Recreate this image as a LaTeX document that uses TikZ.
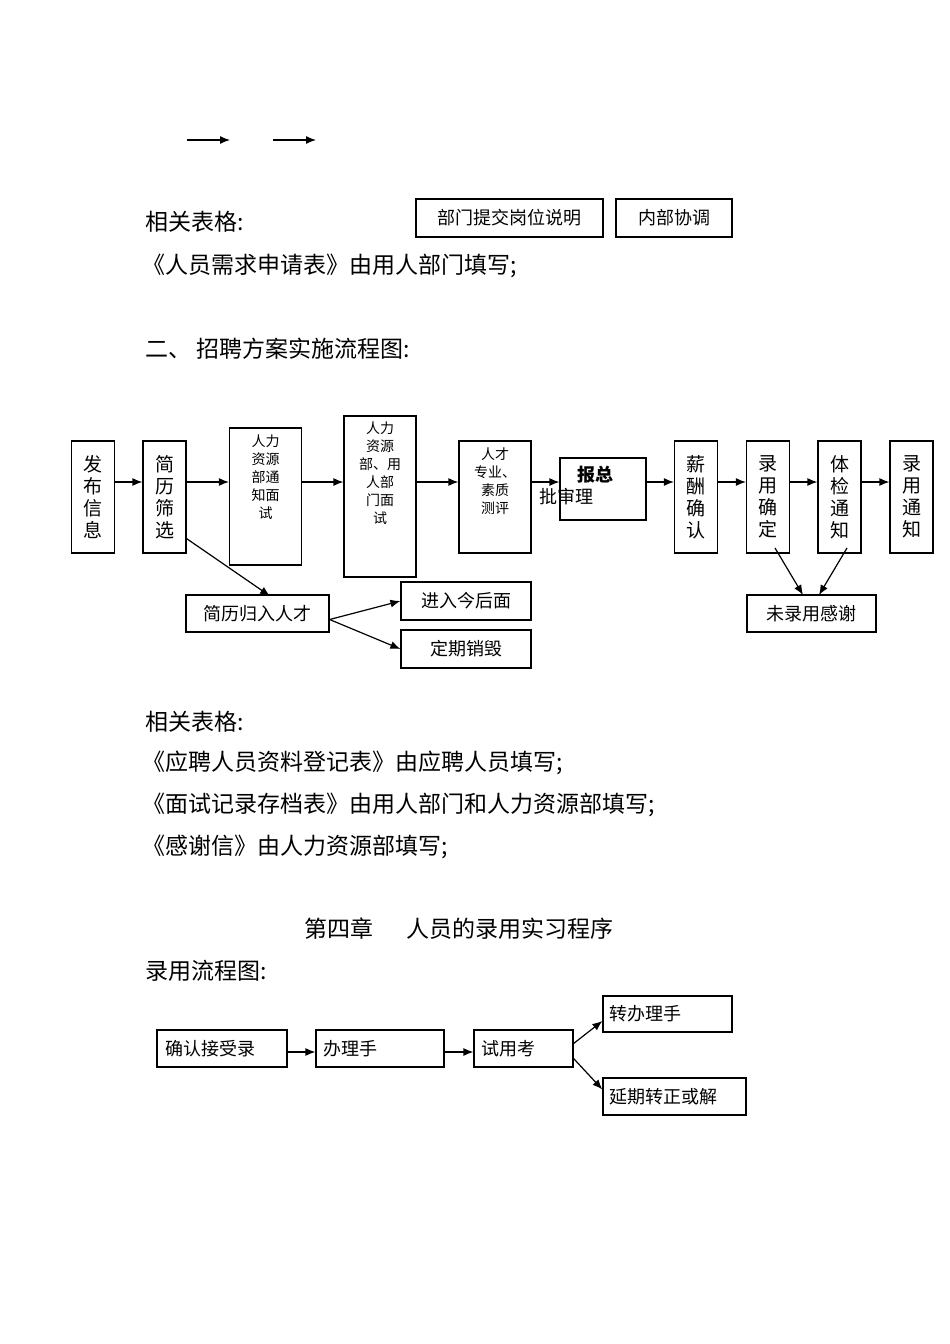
\documentclass[tikz,border=0pt]{standalone}
\usepackage{fontspec}
\setmainfont{Noto Sans CJK SC}
\newfontfamily\cjk{Noto Sans CJK SC}
\usetikzlibrary{positioning,arrows.meta}

\begin{document}
\begin{tikzpicture}[x=1pt,y=-1pt,line width=1.2pt,>={Latex[length=10pt,width=8pt]},
	bodytext/.style={anchor=west,inner sep=0pt,font=\cjk\fontsize{23}{26}\selectfont},
	flatbox/.style={draw,inner sep=0pt,font=\cjk\fontsize{18}{20}\selectfont},
	tallbox/.style={draw,inner sep=0pt,minimum width=43pt,minimum height=112pt,align=center,font=\cjk\fontsize{19}{22}\selectfont},
	thinbox/.style={draw,inner sep=0pt,minimum width=72pt},
	thintext/.style={anchor=north,inner sep=0pt,align=center,font=\cjk\fontsize{14}{18}\selectfont}]
	\useasboundingbox[fill=white] (0,0) rectangle (950,1344);

	\coordinate (a1) at (187,140);
	\coordinate (a2) at (230,140);
	\coordinate (a3) at (273,140);
	\coordinate (a4) at (316,140);
	\draw[->] (a1) -- (a2);
	\draw[->] (a3) -- (a4);

	\node[bodytext] (forms1) at (145,222) {相关表格:};
	\node[flatbox,minimum width=187pt,minimum height=38pt] (submit) at (509.5,218) {部门提交岗位说明};
	\node[flatbox,minimum width=116pt,minimum height=38pt] (coord) at (674,218) {内部协调};
	\node[bodytext] (req) at (142,266) {《人员需求申请表》由用人部门填写;};
	\node[bodytext] (sec2) at (145,349) {二、\ 招聘方案实施流程图:};

	\node[tallbox] (post) at (93,497) {发\\布\\信\\息};
	\node[tallbox] (screen) at (164.5,497) {简\\历\\筛\\选};
	\node[thinbox,minimum height=137pt] (hrnote) at (265.5,496.5) {};
	\node[thintext] at (265.5,434) {人力\\资源\\部通\\知面\\试};
	\node[thinbox,minimum height=161pt] (joint) at (380,496.5) {};
	\node[thintext] at (380,421) {人力\\资源\\部、用\\人部\\门面\\试};
	\node[thinbox,minimum height=112pt] (assess) at (495,497) {};
	\node[thintext] at (495,447) {人才\\专业、\\素质\\测评};
	\node[draw,inner sep=0pt,minimum width=86pt,minimum height=62pt] (approve) at (603,489) {};
	\node[inner sep=0pt,font=\cjk\bfseries\fontsize{18}{20}\selectfont] at (595,475) {报总};
	\node[inner sep=0pt,font=\cjk\fontsize{18}{20}\selectfont] at (566,497) {批审理};
	\node[tallbox] (salary) at (696,497) {薪\\酬\\确\\认};
	\node[tallbox] (hire) at (768,497) {录\\用\\确\\定};
	\node[tallbox] (exam) at (839.5,497) {体\\检\\通\\知};
	\node[tallbox] (notify) at (911.5,497) {录\\用\\通\\知};

	\node[flatbox,minimum width=143pt,minimum height=37pt] (pool) at (257.5,613.5) {简历归入人才};
	\node[flatbox,minimum width=130pt,minimum height=38pt] (later) at (466,601) {进入今后面};
	\node[flatbox,minimum width=130pt,minimum height=38pt] (destroy) at (466,649) {定期销毁};
	\node[flatbox,minimum width=129pt,minimum height=37pt] (thanks) at (811.5,613.5) {未录用感谢};

	\draw[->] ([yshift=15pt]post.east) -- ([yshift=15pt]screen.west);
	\draw[->] ([yshift=15pt]screen.east) -- ([yshift=14.5pt]hrnote.west);
	\draw[->] ([yshift=14.5pt]hrnote.east) -- ([yshift=14.5pt]joint.west);
	\draw[->] ([yshift=14.5pt]joint.east) -- ([yshift=15pt]assess.west);
	\draw[->] ([yshift=15pt]assess.east) -- ([yshift=7pt]approve.west);
	\draw[->] ([yshift=7pt]approve.east) -- ([yshift=15pt]salary.west);
	\draw[->] ([yshift=15pt]salary.east) -- ([yshift=15pt]hire.west);
	\draw[->] ([yshift=15pt]hire.east) -- ([yshift=15pt]exam.west);
	\draw[->] ([yshift=15pt]exam.east) -- ([yshift=15pt]notify.west);

	\draw[->] ([yshift=15pt]screen.south east) -- (270,596);
	\draw[->] ([yshift=-6pt]pool.east) -- (later.west);
	\draw[->] ([yshift=-6pt]pool.east) -- (destroy.west);
	\draw[->] (775,548) -- (803,595);
	\draw[->] (847,548) -- (819,595);

	\node[bodytext] (forms2) at (145,722) {相关表格:};
	\node[bodytext] (f1) at (142,763) {《应聘人员资料登记表》由应聘人员填写;};
	\node[bodytext] (f2) at (142,805) {《面试记录存档表》由用人部门和人力资源部填写;};
	\node[bodytext] (f3) at (142,847) {《感谢信》由人力资源部填写;};

	\node[bodytext] (chap) at (304,929) {第四章\quad\ \ 人员的录用实习程序};
	\node[bodytext] (flow) at (145,971) {录用流程图:};

	\node[flatbox,minimum width=130pt,minimum height=37pt,text width=114pt] (accept) at (222,1048.5) {确认接受录};
	\node[flatbox,minimum width=128pt,minimum height=37pt,text width=114pt] (proc) at (380,1048.5) {办理手};
	\node[flatbox,minimum width=99pt,minimum height=37pt,text width=85pt] (trial) at (523.5,1048.5) {试用考};
	\node[flatbox,minimum width=129pt,minimum height=36pt,text width=116pt] (regular) at (667.5,1014) {转办理手};
	\node[flatbox,minimum width=143pt,minimum height=37pt,text width=130pt] (delay) at (674.5,1096.5) {延期转正或解};

	\draw[->] ([yshift=-3.5pt]accept.east) -- ([yshift=-3.5pt]proc.west);
	\draw[->] ([yshift=-3.5pt]proc.east) -- ([yshift=-3.5pt]trial.west);
	\draw[->] ([yshift=5pt]trial.east) -- ([yshift=-7pt]regular.west);
	\draw[->] ([yshift=-10pt]trial.east) -- ([yshift=7pt]delay.west);
\end{tikzpicture}
\end{document}
